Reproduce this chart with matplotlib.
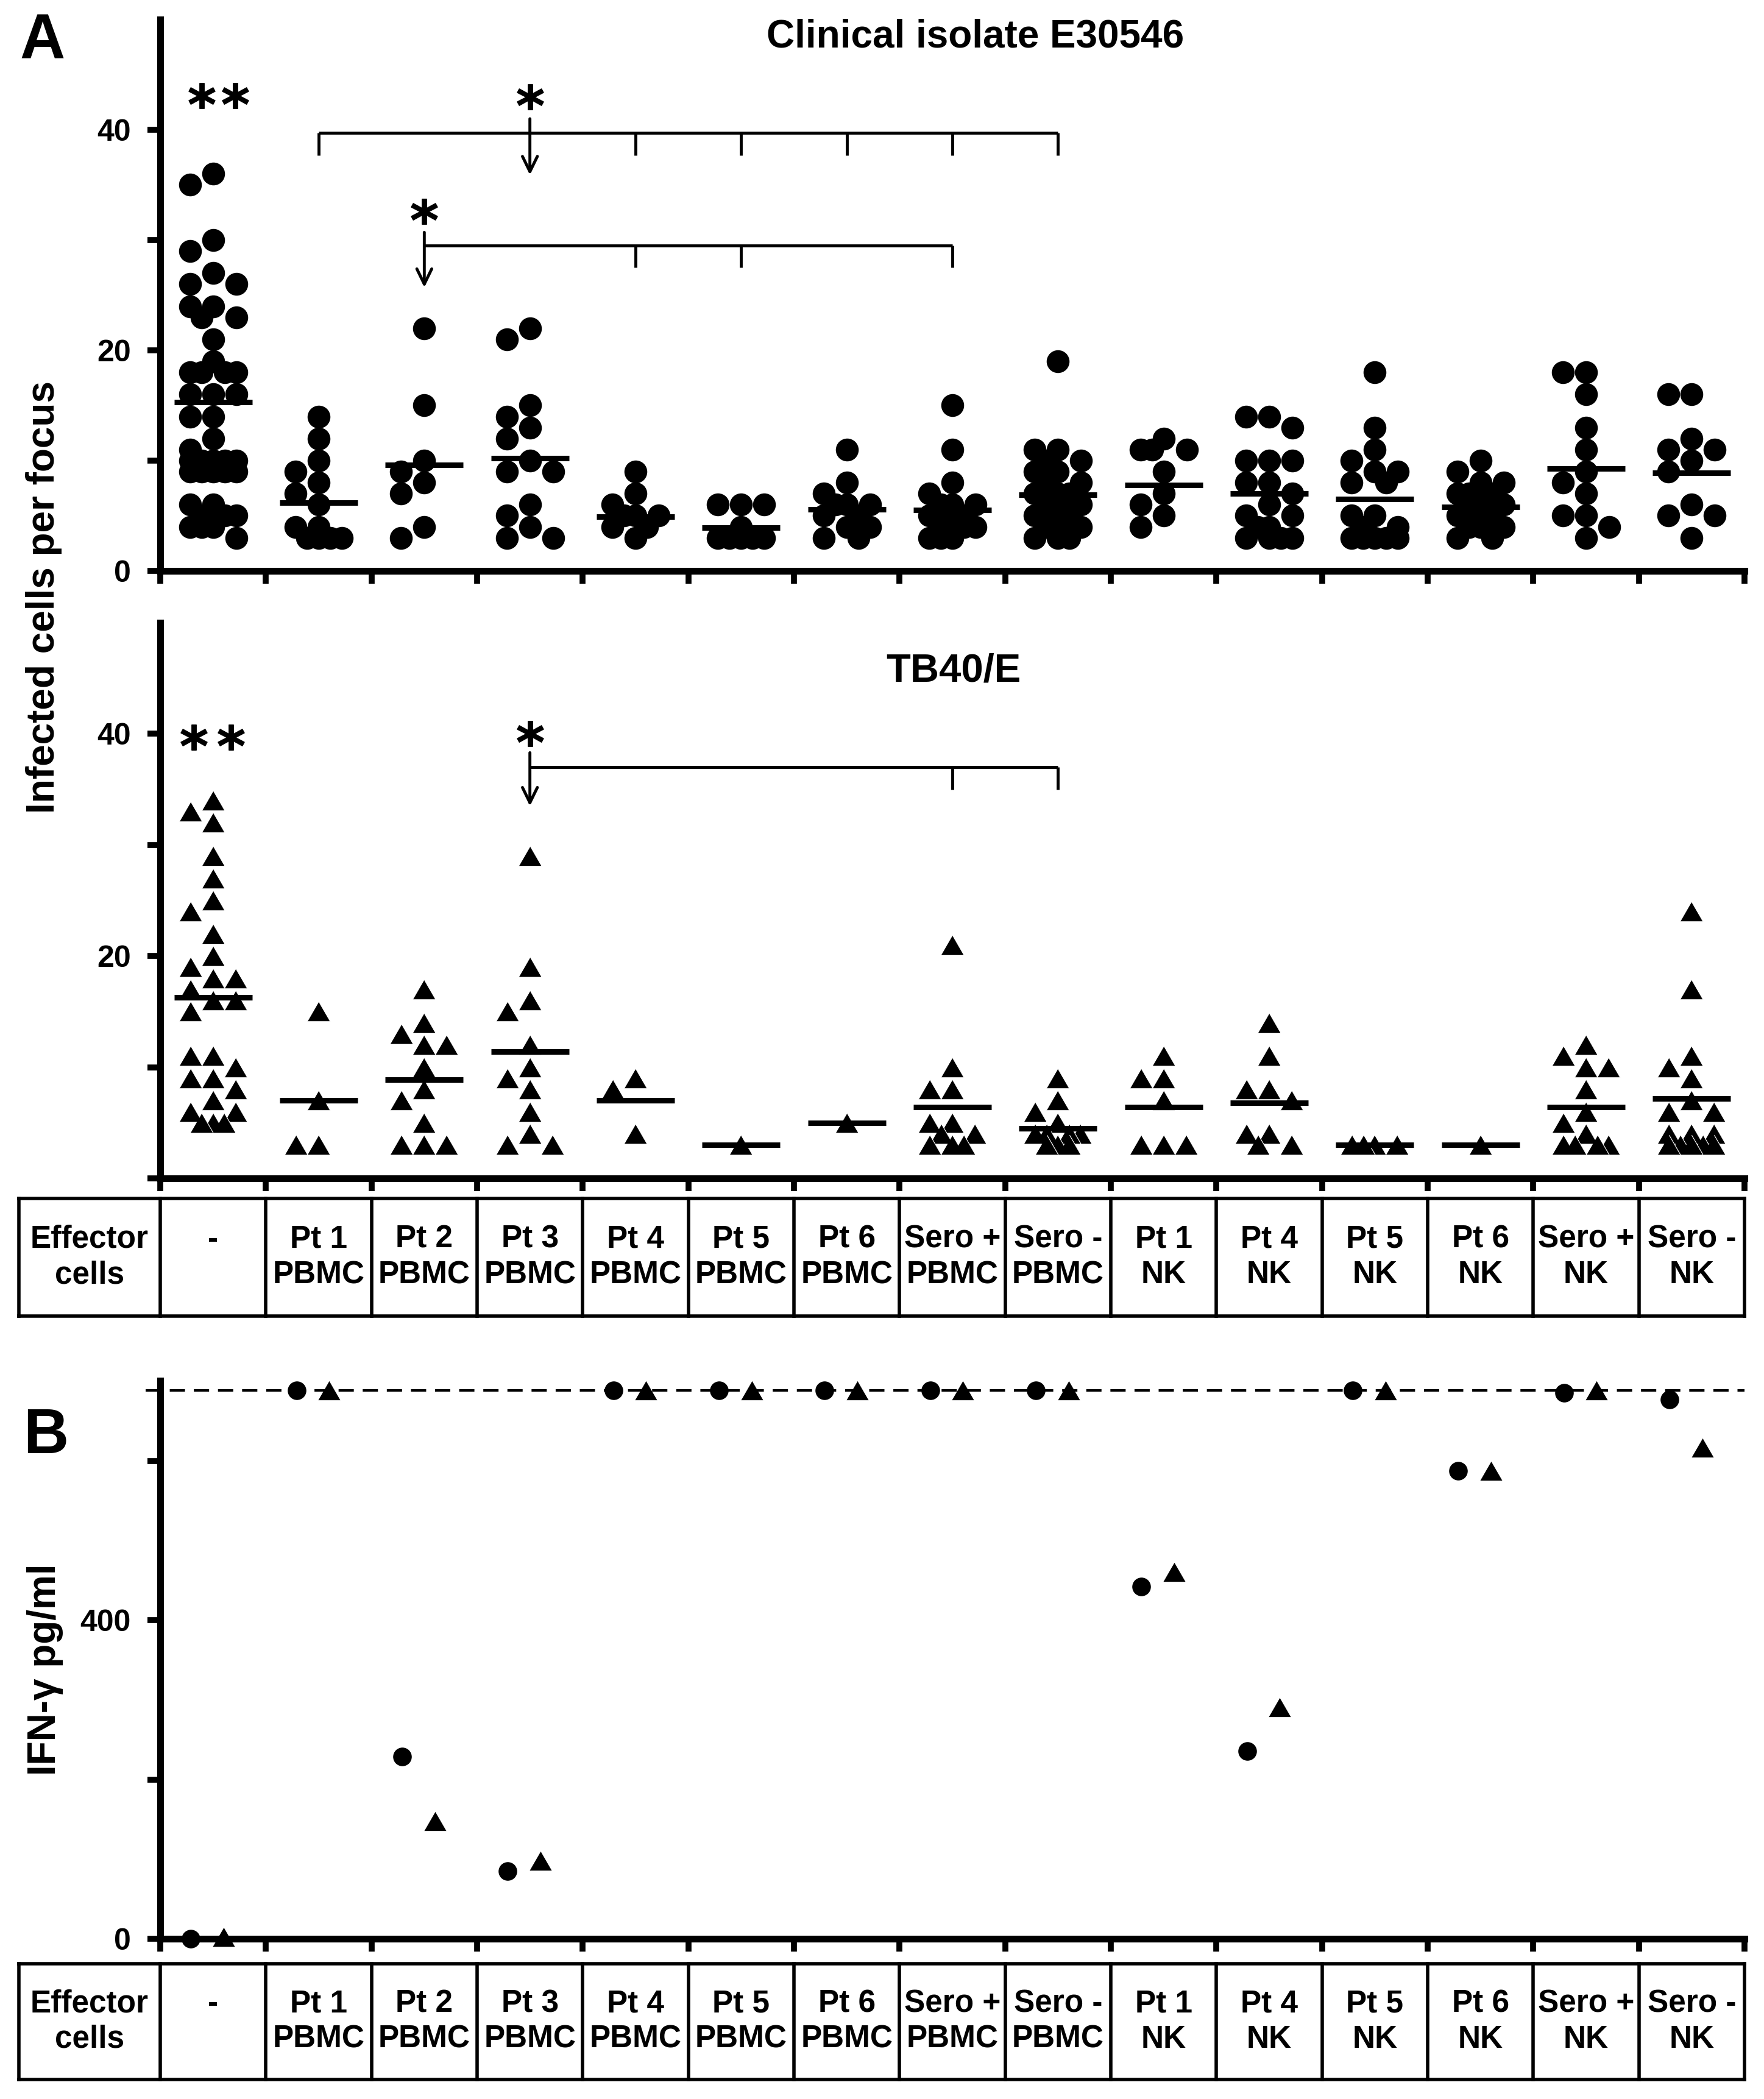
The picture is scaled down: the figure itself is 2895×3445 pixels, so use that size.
import numpy as np
import matplotlib.pyplot as plt

plt.rcParams['font.family'] = ['Liberation Sans', 'DejaVu Sans']
plt.rcParams['font.weight'] = 'bold'

W, H = 2895, 3445  # output size in pixels (dpi 100)

# ---- data ----
effectors = ['-', 'Pt 1\nPBMC', 'Pt 2\nPBMC', 'Pt 3\nPBMC', 'Pt 4\nPBMC', 'Pt 5\nPBMC',
             'Pt 6\nPBMC', 'Sero +\nPBMC', 'Sero -\nPBMC', 'Pt 1\nNK', 'Pt 4\nNK',
             'Pt 5\nNK', 'Pt 6\nNK', 'Sero +\nNK', 'Sero -\nNK']

# infected cells per focus, clinical isolate E30546 (circles)
e30546_cells = [
    [36, 35, 30, 29, 27, 26, 26, 24, 24, 23, 23, 21, 19, 18, 18, 18, 18, 16, 16, 16, 14, 14,
     12, 11, 10, 10, 10, 10, 10, 9, 9, 9, 9, 9, 6, 6, 5, 5, 5, 4, 4, 4, 3],
    [14, 12, 10, 9, 8, 7, 6, 4, 4, 3, 3, 3, 3],
    [22, 15, 10, 9, 8, 7, 4, 3],
    [22, 21, 15, 14, 13, 12, 10, 9, 9, 6, 5, 4, 3, 3],
    [9, 7, 6, 5, 5, 5, 4, 4, 3],
    [6, 6, 6, 4, 3, 3, 3, 3, 3],
    [11, 8, 7, 6, 6, 6, 5, 5, 4, 4, 3, 3],
    [15, 11, 8, 7, 6, 6, 6, 5, 5, 5, 4, 4, 4, 4, 3, 3, 3],
    [19, 11, 11, 10, 10, 9, 9, 8, 8, 7, 7, 7, 6, 6, 6, 5, 5, 5, 5, 4, 4, 4, 3, 3, 3],
    [12, 11, 11, 11, 9, 7, 6, 5, 4],
    [14, 14, 13, 10, 10, 10, 8, 8, 7, 6, 5, 5, 4, 4, 3, 3, 3, 3],
    [18, 13, 11, 10, 9, 9, 8, 8, 5, 5, 4, 4, 3, 3, 3, 3, 3],
    [10, 9, 8, 8, 7, 7, 7, 6, 6, 6, 5, 5, 5, 4, 4, 4, 3, 3],
    [18, 18, 16, 13, 11, 9, 8, 7, 5, 5, 4, 3],
    [16, 16, 12, 11, 11, 10, 9, 6, 5, 5, 3],
]
e30546_mean = [15.3, 6.2, 9.6, 10.2, 4.9, 3.9, 5.6, 5.5, 6.9, 7.8, 7.0, 6.5, 5.8, 9.3, 8.9]

# infected cells per focus, TB40/E (triangles)
tb40_cells = [
    [34, 33, 32, 29, 27, 25, 24, 22, 20, 19, 18, 18, 17, 16, 16, 15, 11, 11, 10, 9, 9, 8,
     7, 6, 6, 5, 5, 5],
    [15, 7, 3, 3],
    [17, 14, 13, 12, 12, 10, 8, 7, 5, 3, 3, 3],
    [29, 19, 16, 15, 12, 10, 9, 8, 6, 4, 3, 3],
    [9, 8, 4],
    [3],
    [5],
    [21, 10, 8, 8, 5, 5, 4, 4, 3, 3, 3],
    [9, 7, 6, 5, 4, 4, 4, 4, 3, 3, 3],
    [11, 9, 9, 7, 3, 3, 3],
    [14, 11, 8, 8, 7, 4, 4, 3, 3],
    [3, 3, 3, 3],
    [3],
    [12, 11, 10, 10, 8, 6, 5, 4, 3, 3, 3, 3],
    [24, 17, 11, 10, 9, 7, 6, 6, 4, 4, 4, 3, 3, 3, 3, 3],
]
tb40_mean = [16.3, 7.0, 8.9, 11.4, 7.0, 3.0, 5.0, 6.4, 4.5, 6.4, 6.8, 3.0, 3.0, 6.4, 7.2]

# IFN-gamma pg/ml (panel B)
ifn_e30546 = [0, 689, 229, 85, 689, 689, 689, 689, 689, 442, 236, 689, 588, 686, 677]
ifn_tb40 = [2, 689, 148, 98, 689, 689, 689, 689, 689, 461, 291, 689, 588, 689, 617]
ifn_limit = 689

TRI = [(-1, -0.866), (1, -0.866), (0, 0.866)]


def fx(px):
    return px / W


def fy(py):
    return 1 - py / H


def style(ax, ymax, yticks, ylabels):
    ax.set_xlim(0, 15)
    ax.set_ylim(0, ymax)
    for s in ['top', 'right']:
        ax.spines[s].set_visible(False)
    for s in ['left', 'bottom']:
        ax.spines[s].set_linewidth(8)
    ax.set_xticks(range(16))
    ax.set_xticklabels([])
    ax.set_yticks(yticks)
    ax.set_yticklabels(ylabels)
    ax.tick_params(direction='out', length=15, width=7, labelsize=36, pad=20)
    ax.patch.set_alpha(0)


def swarm(ax, center, values, diam):
    # simple column scatter: step half a marker, avoid overlaps where possible
    tr = ax.transData
    placed, xs, ys = [], [], []
    for v in sorted(values, reverse=True):
        cx, cy = tr.transform((center, v))
        best_k, best_d = 0, -1
        for k in [0, -1, 1, -2, 2]:
            px = cx + k * diam / 2
            d = min([np.hypot(px - qx, cy - qy) for qx, qy in placed], default=1e9)
            if d >= 0.9 * diam:
                best_k = k
                break
            if d > best_d + 1e-6:
                best_d, best_k = d, k
        px = cx + best_k * diam / 2
        placed.append((px, cy))
        xs.append(tr.inverted().transform((px, cy))[0])
        ys.append(v)
    return xs, ys


def bracket(ax, x0, x1, y, drops, drop_len, lw=3.5):
    ax.plot([x0, x1], [y, y], color='k', lw=lw, clip_on=False, solid_capstyle='butt')
    for d in drops:
        ax.plot([d, d], [y, y - drop_len], color='k', lw=lw, clip_on=False, solid_capstyle='butt')


def arrow(ax, x, ytop, ybot, ystar):
    ax.annotate('', xy=(x, ybot), xytext=(x, ytop),
                arrowprops=dict(arrowstyle='->,head_length=0.45,head_width=0.22',
                                lw=3.5, color='k', shrinkA=0, shrinkB=0, mutation_scale=40),
                annotation_clip=False)
    ax.plot([x], [ystar], marker='$*$', ms=31, color='k', ls='none', clip_on=False)


def table(top, bot):
    ax = fig.add_axes([fx(31), fy(bot), fx(2863 - 31), (bot - top) / H])
    ax.set_xlim(-1.339, 15)
    ax.set_ylim(0, 1)
    ax.axis('off')
    lw = 4
    for yy in [0, 1]:
        ax.plot([-1.339, 15], [yy, yy], color='k', lw=lw, clip_on=False, solid_capstyle='projecting')
    for xx in [-1.339] + list(range(16)):
        ax.plot([xx, xx], [0, 1], color='k', lw=lw, clip_on=False)
    ax.text(-0.67, 0.5, 'Effector\ncells', ha='center', va='center', fontsize=37,
            fontweight='bold', linespacing=1.25)
    for i, lab in enumerate(effectors):
        if lab == '-':
            lab = '-\n '
        ax.text(i + 0.5, 0.5, lab, ha='center', va='center', fontsize=37,
                fontweight='bold', linespacing=1.25)


fig = plt.figure(figsize=(W / 100, H / 100), dpi=100)
fig.patch.set_facecolor('white')

centers = np.arange(15) + 0.5

# ---- panel A, clinical isolate ----
ax1 = fig.add_axes([fx(263), fy(937), fx(2600), (937 - 32) / H])
style(ax1, 50, [0, 10, 20, 30, 40], ['0', '', '20', '', '40'])
for i, vals in enumerate(e30546_cells):
    xs, ys = swarm(ax1, centers[i], vals, 38)
    ax1.plot(xs, ys, 'o', color='k', ms=27, mew=0, clip_on=False, zorder=3)
ax1.hlines(e30546_mean, centers - 0.37, centers + 0.37, color='k', lw=6.5, zorder=4)
ax1.plot([0.39, 0.71], [43.1, 43.1], marker='$*$', ms=31, color='k', ls='none', clip_on=False)
bracket(ax1, 1.5, 8.5, 39.7, [1.5, 4.5, 5.5, 6.5, 7.5, 8.5], 2.0)
arrow(ax1, 3.5, 41.0, 35.9, 43.0)
bracket(ax1, 2.5, 7.5, 29.5, [4.5, 5.5, 7.5], 2.0)
arrow(ax1, 2.5, 30.7, 25.7, 32.6)

# ---- panel A, TB40/E ----
ax2 = fig.add_axes([fx(263), fy(1934), fx(2600), (1934 - 1022) / H])
style(ax2, 50, [0, 10, 20, 30, 40], ['', '', '20', '', '40'])
for i, vals in enumerate(tb40_cells):
    xs, ys = swarm(ax2, centers[i], vals, 37)
    ax2.plot(xs, ys, marker=TRI, ls='none', color='k', ms=27, mec='white', mew=0.8,
             clip_on=False, zorder=3)
ax2.hlines(tb40_mean, centers - 0.37, centers + 0.37, color='k', lw=6.5, zorder=4)
ax2.plot([0.32, 0.67], [39.7, 39.7], marker='$*$', ms=31, color='k', ls='none', clip_on=False)
bracket(ax2, 3.5, 8.5, 37.0, [7.5, 8.5], 2.0)
arrow(ax2, 3.5, 38.3, 33.5, 40.0)

table(1967, 2160)

# ---- panel B, IFN-gamma ----
axb = fig.add_axes([fx(263), fy(3182), fx(2600), (3182 - 2266) / H])
style(axb, 701, [0, 200, 400, 600], ['0', '', '400', ''])
axb.plot([-0.14, 15], [ifn_limit, ifn_limit], color='k', lw=3, ls=(0, (6, 3.5)),
         clip_on=False, zorder=1)
axb.plot(centers - 0.21, ifn_e30546, 'o', color='k', ms=22, mew=0, clip_on=False, zorder=3)
axb.plot(centers + 0.10, ifn_tb40, marker=TRI, ls='none', color='k', ms=26, mew=0,
         clip_on=False, zorder=3)

table(3223, 3413)

# ---- texts ----
fig.text(fx(32), fy(96), 'A', fontsize=74, fontweight='bold', ha='left', va='baseline')
fig.text(fx(38), fy(2385), 'B', fontsize=74, fontweight='bold', ha='left', va='baseline')
fig.text(fx(1601), fy(77), 'Clinical isolate E30546', fontsize=46, fontweight='bold',
         ha='center', va='baseline')
fig.text(fx(1565), fy(1118), 'TB40/E', fontsize=47, fontweight='bold',
         ha='center', va='baseline')
fig.text(fx(72), fy(980), 'Infected cells per focus', fontsize=46, fontweight='bold',
         rotation=90, ha='center', va='center')
fig.text(fx(74), fy(2740), 'IFN-γ pg/ml', fontsize=46, fontweight='bold',
         rotation=90, ha='center', va='center')

fig.savefig('out.png', dpi=100)
